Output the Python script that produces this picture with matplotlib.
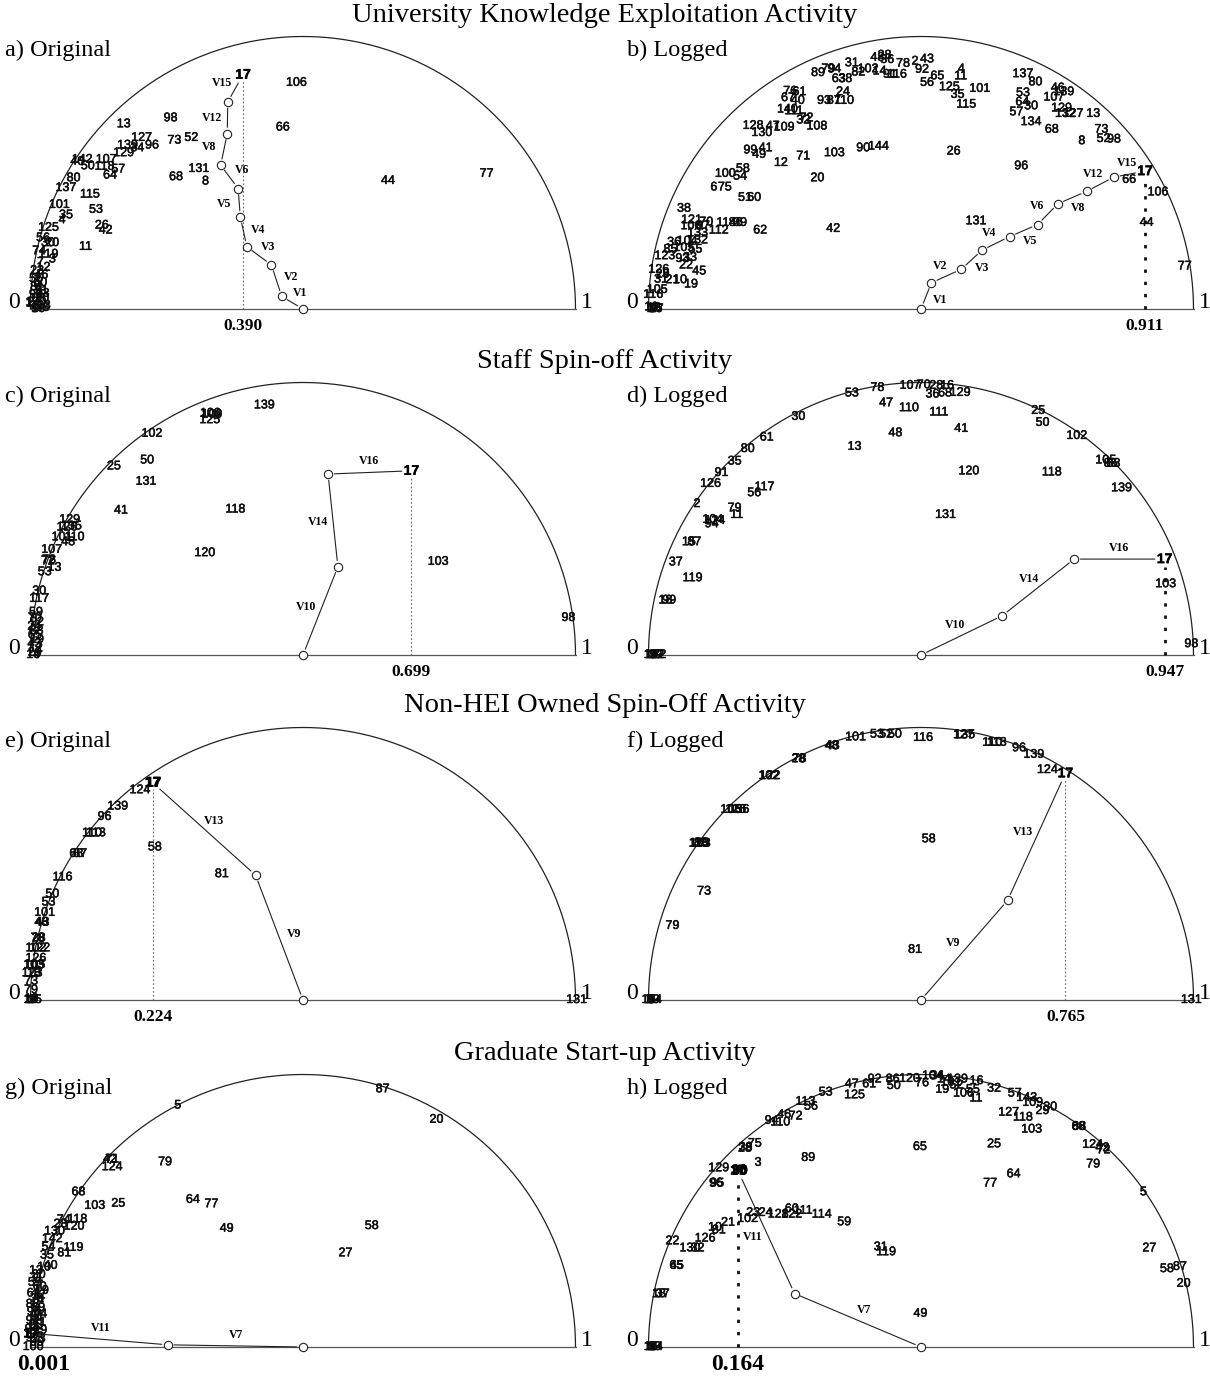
import numpy as np
import matplotlib
matplotlib.use("Agg")
import matplotlib.pyplot as plt
import matplotlib.patheffects as pe

SERIF = "Liberation Serif"
SANS = "Liberation Sans"

ROW_TITLES = ["University Knowledge Exploitation Activity", "Staff Spin-off Activity",
              "Non-HEI Owned Spin-Off Activity", "Graduate Start-up Activity"]
PANEL_NAMES = ["a) Original", "b) Logged", "c) Original", "d) Logged",
               "e) Original", "f) Logged", "g) Original", "h) Logged"]
END_VALUES = ["0.390", "0.911", "0.699", "0.947", "0.224", "0.765", "0.001", "0.164"]
# labels stacked on the end point of each vector chain
END_LABELS = [["17"], ["17"], ["17"], ["17"], ["17", "17"], ["17"], ["17"], ["17", "30", "90"]]

# ---------- panel a ----------
A_PTS = [("106", .488, .415), ("98", .257, .350), ("13", .171, .339), ("66", .463, .333),
         ("127", .204, .314), ("73", .264, .309), ("52", .295, .314), ("139", .178, .300),
         ("34", .196, .295), ("96", .223, .300), ("129", .171, .286), ("142", .095, .274),
         ("40", .086, .270), ("107", .139, .274), ("50", .105, .262), ("118", .136, .261),
         ("57", .161, .256), ("64", .146, .245), ("131", .309, .257), ("68", .267, .242),
         ("8", .321, .234), ("80", .079, .240), ("137", .065, .222), ("115", .109, .210),
         ("101", .053, .191), ("53", .120, .182), ("35", .065, .172), ("4", .058, .163),
         ("125", .033, .149), ("26", .131, .153), ("42", .138, .144), ("11", .101, .114),
         ("44", .656, .235), ("77", .837, .248), ("56", .023, .130), ("30", .032, .121),
         ("20", .040, .121), ("74", .016, .106), ("119", .033, .100), ("3", .040, .091),
         ("7", .018, .085), ("12", .024, .076), ("23", .012, .070), ("46", .020, .062),
         ("55", .010, .055), ("60", .018, .048), ("9", .012, .045), ("81", .012, .040),
         ("91", .020, .033), ("33", .022, .028), ("99", .010, .026), ("110", .016, .019),
         ("120", .010, .012), ("123", .018, .006), ("5", .008, .000), ("85", .022, .002),
         ("14", .004, .010), ("16", .014, .000)]
A_CHAIN = [(.5, 0), (.461, .023), (.442, .081), (.397, .114), (.385, .169), (.381, .221),
           (.349, .264), (.361, .322), (.362, .380), (.390, .430)]
A_VLAB = ["V1", "V2", "V3", "V4", "V5", "V6", "V8", "V12", "V15"]
A_SIDE = [-1, -1, -1, -1, 1, -1, 1, 1, 1]

# ---------- panel b ----------
B_PTS = [("66", .882, .237), ("106", .935, .214), ("44", .914, .158), ("77", .984, .078),
         ("131", .601, .161), ("96", .684, .262), ("26", .560, .289), ("42", .339, .147),
         ("20", .310, .240), ("103", .341, .286), ("90", .394, .295), ("144", .422, .298),
         ("71", .284, .280), ("12", .243, .268), ("99", .187, .291), ("41", .215, .295),
         ("49", .203, .283), ("128", .192, .336), ("47", .228, .335), ("109", .249, .333),
         ("130", .208, .323), ("108", .309, .335), ("72", .290, .350), ("32", .284, .346),
         ("76", .260, .399), ("61", .277, .398), ("67", .256, .387), ("40", .274, .382),
         ("140", .255, .366), ("111", .267, .363), ("93", .322, .382), ("87", .340, .382),
         ("110", .359, .382), ("24", .357, .398), ("89", .311, .433), ("79", .330, .440),
         ("94", .341, .440), ("63", .349, .422), ("38", .361, .422), ("31", .373, .451),
         ("82", .385, .434), ("102", .403, .440), ("14", .424, .436), ("48", .420, .461),
         ("28", .433, .465), ("36", .438, .457), ("78", .467, .450), ("91", .443, .430),
         ("116", .456, .430), ("2", .489, .454), ("43", .511, .458), ("92", .502, .439),
         ("56", .511, .415), ("65", .530, .427), ("4", .574, .440), ("11", .573, .427),
         ("125", .552, .407), ("35", .567, .393), ("101", .608, .404), ("115", .583, .375),
         ("137", .687, .431), ("80", .710, .416), ("53", .687, .396), ("107", .744, .388),
         ("46", .751, .405), ("139", .762, .398), ("64", .686, .379), ("30", .702, .372),
         ("57", .675, .361), ("129", .758, .368), ("132", .765, .358), ("127", .779, .358),
         ("13", .816, .358), ("134", .702, .343), ("68", .740, .329), ("73", .831, .329),
         ("52", .835, .312), ("98", .854, .311), ("8", .795, .308), ("100", .141, .248),
         ("54", .168, .243), ("58", .173, .257), ("6", .120, .223), ("75", .140, .223),
         ("51", .177, .204), ("60", .194, .204), ("38", .065, .184), ("121", .079, .163),
         ("70", .106, .159), ("106", .078, .152), ("87", .100, .152), ("133", .090, .139),
         ("112", .129, .144), ("114", .143, .158), ("86", .160, .158), ("39", .168, .158),
         ("62", .205, .144), ("36", .047, .122), ("104", .071, .124), ("132", .090, .126),
         ("85", .040, .109), ("105", .065, .112), ("55", .086, .109), ("123", .030, .097),
         ("93", .062, .092), ("33", .076, .094), ("22", .069, .080), ("45", .093, .069),
         ("126", .019, .072), ("29", .026, .063), ("31", .023, .054), ("21", .044, .053),
         ("10", .058, .053), ("19", .078, .045), ("105", .016, .035), ("116", .009, .026),
         ("1", .003, .0), ("9", .008, .0), ("15", .013, .0), ("16", .005, .003),
         ("18", .010, .002), ("27", .015, .0)]
B_CHAIN = [(.5, 0), (.519, .048), (.574, .073), (.612, .108), (.663, .133), (.714, .155),
           (.751, .193), (.804, .216), (.854, .242), (.911, .253)]
B_VLAB = ["V1", "V2", "V3", "V4", "V5", "V6", "V8", "V12", "V15"]
B_SIDE = [-1, 1, -1, 1, -1, 1, -1, 1, 1]

# ---------- panel c ----------
C_PTS = [("139", .429, .458), ("108", .330, .443), ("109", .333, .441), ("125", .329, .431),
         ("102", .223, .406), ("50", .214, .357), ("25", .153, .346), ("131", .212, .318),
         ("41", .166, .265), ("118", .376, .267), ("120", .320, .187), ("103", .748, .171),
         ("98", .987, .068), ("129", .072, .248), ("126", .067, .234), ("135", .075, .236),
         ("101", .058, .216), ("110", .081, .216), ("48", .069, .207), ("107", .039, .193),
         ("72", .032, .172), ("78", .034, .174), ("13", .044, .160), ("53", .026, .152),
         ("30", .016, .117), ("117", .016, .103), ("59", .010, .078), ("70", .008, .068),
         ("92", .012, .060), ("24", .007, .052), ("88", .011, .044), ("65", .008, .036),
         ("19", .012, .028), ("43", .007, .020), ("12", .010, .012), ("29", .008, .004),
         ("9", .012, .0), ("14", .005, .0)]
C_CHAIN = [(.5, 0), (.564, .162), (.546, .332), (.699, .338)]
C_VLAB = ["V10", "V14", "V16"]
C_SIDE = [1, 1, 1]

# ---------- panel d ----------
D_PTS = [("103", .949, .130), ("98", .996, .020), ("53", .373, .480), ("78", .420, .490),
         ("107", .480, .494), ("70", .505, .495), ("28", .528, .494), ("16", .548, .494),
         ("36", .521, .478), ("68", .544, .480), ("129", .572, .481), ("47", .436, .462),
         ("110", .478, .453), ("111", .533, .445), ("30", .275, .437), ("48", .453, .407),
         ("41", .574, .415), ("13", .378, .382), ("25", .715, .448), ("50", .723, .426),
         ("102", .786, .402), ("61", .217, .399), ("80", .182, .378), ("35", .158, .355),
         ("91", .134, .334), ("126", .114, .314), ("2", .089, .277), ("56", .194, .297),
         ("117", .213, .308), ("79", .158, .269), ("11", .162, .257), ("120", .588, .337),
         ("118", .740, .335), ("105", .839, .357), ("85", .848, .351), ("83", .853, .351),
         ("139", .868, .306), ("131", .545, .257), ("104", .118, .248), ("94", .116, .240),
         ("124", .122, .246), ("15", .074, .207), ("87", .084, .207), ("37", .050, .170),
         ("119", .081, .141), ("18", .031, .100), ("99", .038, .100), ("1", .0, .0),
         ("9", .008, .0), ("12", .016, .0), ("14", .004, .0), ("19", .012, .0), ("22", .020, .0)]
D_CHAIN = [(.5, 0), (.649, .072), (.781, .176), (.947, .176)]
D_VLAB = ["V10", "V14", "V16"]
D_SIDE = [1, 1, 1]

# ---------- panel e ----------
E_PTS = [("124", .201, .385), ("139", .160, .355), ("96", .136, .336), ("110", .113, .306),
         ("113", .120, .306), ("68", .084, .268), ("87", .091, .268), ("116", .059, .225),
         ("50", .040, .194), ("53", .033, .179), ("101", .026, .160), ("48", .020, .142),
         ("43", .022, .142), ("78", .013, .113), ("28", .015, .113), ("102", .010, .095),
         ("122", .017, .095), ("126", .010, .076), ("103", .006, .064), ("105", .008, .064),
         ("123", .003, .049), ("18", .006, .049), ("73", .001, .034), ("79", .001, .018),
         ("58", .228, .280), ("81", .351, .231), ("131", 1.002, .0), ("1", -.004, .0),
         ("9", .004, .0), ("14", .0, .0), ("15", .008, .0), ("19", .002, .002)]
E_CHAIN = [(.5, 0), (.413, .229), (.224, .399)]
E_VLAB = ["V9", "V13"]
E_SIDE = [-1, -1]

# ---------- panel f ----------
F_PTS = [("124", .732, .422), ("139", .707, .450), ("96", .680, .462), ("110", .631, .472),
         ("113", .639, .472), ("127", .578, .486), ("135", .580, .486), ("116", .504, .481),
         ("53", .419, .487), ("52", .436, .487), ("50", .452, .487), ("101", .380, .482),
         ("48", .336, .466), ("43", .338, .466), ("28", .275, .442), ("78", .277, .442),
         ("102", .221, .411), ("122", .223, .411), ("105", .151, .349), ("136", .166, .349),
         ("126", .160, .349), ("103", .095, .287), ("18", .097, .287), ("123", .093, .287),
         ("88", .096, .288), ("73", .102, .199), ("79", .044, .136), ("58", .514, .295),
         ("81", .489, .092), ("131", .996, .0), ("1", -.002, .0), ("9", .005, .0),
         ("14", .012, .0), ("15", .0, .0), ("19", .008, .0)]
F_CHAIN = [(.5, 0), (.659, .183), (.765, .416)]
F_VLAB = ["V9", "V13"]
F_SIDE = [1, 1]

# ---------- panel g ----------
G_PTS = [("87", .646, .473), ("5", .270, .443), ("20", .745, .417), ("42", .146, .344),
         ("71", .150, .344), ("124", .150, .330), ("79", .247, .339), ("68", .088, .284),
         ("103", .118, .259), ("25", .161, .263), ("64", .298, .270), ("77", .332, .262),
         ("49", .360, .217), ("58", .626, .222), ("27", .578, .172), ("118", .086, .234),
         ("74", .061, .233), ("120", .080, .221), ("28", .055, .225), ("130", .044, .212),
         ("142", .040, .198), ("54", .033, .183), ("119", .079, .182), ("81", .062, .172),
         ("35", .030, .168), ("40", .037, .149), ("10", .025, .146), ("11", .012, .127),
         ("19", .021, .103), ("12", .015, .095), ("4", .018, .085), ("13", .010, .140),
         ("30", .015, .132), ("59", .008, .118), ("60", .017, .110), ("61", .006, .098),
         ("70", .012, .088), ("88", .004, .078), ("89", .014, .072), ("90", .006, .064),
         ("91", .012, .056), ("92", .004, .048), ("93", .010, .040), ("94", .002, .032),
         ("95", .011, .024), ("97", .004, .016), ("99", .012, .008), ("100", .005, .0),
         ("23", .015, .015), ("29", .018, .030), ("41", .016, .045), ("44", .018, .060)]
G_CHAIN = [(.5, 0), (.252, .004), (.001, .025)]
G_VLAB = ["V7", "V11"]
G_SIDE = [-1, -1]

# ---------- panel h ----------
H_PTS = [("129", .129, .328), ("3", .201, .338), ("28", .177, .364), ("38", .178, .366),
         ("75", .195, .373), ("96", .124, .300), ("95", .126, .300), ("89", .293, .347),
         ("65", .498, .367), ("25", .634, .372), ("64", .670, .317), ("77", .627, .300),
         ("79", .816, .335), ("124", .815, .371), ("72", .835, .361), ("42", .833, .365),
         ("68", .789, .404), ("88", .790, .404), ("5", .908, .284), ("27", .919, .181),
         ("58", .951, .143), ("87", .975, .147), ("20", .982, .116), ("49", .499, .061),
         ("31", .426, .183), ("119", .436, .174), ("59", .359, .229), ("114", .318, .243),
         ("111", .284, .250), ("60", .263, .253), ("122", .263, .243), ("128", .238, .243),
         ("24", .215, .246), ("23", .192, .246), ("102", .182, .235), ("21", .146, .228),
         ("10", .122, .219), ("81", .129, .214), ("126", .104, .199), ("22", .044, .194),
         ("130", .076, .181), ("32", .090, .181), ("65", .051, .149), ("45", .052, .149),
         ("18", .019, .097), ("37", .026, .097), ("53", .325, .467), ("113", .288, .450),
         ("56", .298, .441), ("46", .249, .426), ("72", .270, .423), ("94", .226, .415),
         ("110", .242, .412), ("47", .373, .482), ("125", .378, .462), ("61", .405, .482),
         ("92", .415, .491), ("86", .448, .491), ("50", .450, .479), ("120", .479, .492),
         ("104", .521, .497), ("76", .502, .484), ("14", .542, .491), ("139", .567, .491),
         ("16", .602, .488), ("19", .539, .472), ("106", .578, .465), ("55", .595, .472),
         ("11", .601, .456), ("32", .634, .474), ("57", .672, .465), ("143", .694, .457),
         ("109", .705, .448), ("127", .661, .430), ("118", .687, .421), ("103", .703, .399),
         ("29", .723, .433), ("30", .737, .440), ("34", .530, .497), ("101", .555, .485),
         ("52", .565, .480), ("1", .0, .0), ("9", .007, .0), ("14", .014, .0),
         ("15", .004, .0), ("19", .011, .0)]
H_CHAIN = [(.5, 0), (.268, .098), (.164, .324)]
H_VLAB = ["V7", "V11"]
H_SIDE = [-1, 1]

PANELS = [(A_PTS, A_CHAIN, A_VLAB, A_SIDE), (B_PTS, B_CHAIN, B_VLAB, B_SIDE),
          (C_PTS, C_CHAIN, C_VLAB, C_SIDE), (D_PTS, D_CHAIN, D_VLAB, D_SIDE),
          (E_PTS, E_CHAIN, E_VLAB, E_SIDE), (F_PTS, F_CHAIN, F_VLAB, F_SIDE),
          (G_PTS, G_CHAIN, G_VLAB, G_SIDE), (H_PTS, H_CHAIN, H_VLAB, H_SIDE)]
# dotted guide style per panel: thin / bold / none
GUIDE = ["thin", "bold", "thin", "bold", "thin", "thin", None, "bold"]
VAL_SIZE = [12.5, 12.5, 12.5, 12.5, 12.5, 12.5, 17, 17]

W, H = 1210, 1386
S = 545.0                      # pixels per data unit
CX = [303, 921]
BASE = [309, 655, 1000, 1347]
XL, YL = (-0.04, 1.04), (-0.06, 0.53)

fig = plt.figure(figsize=(W / 100, H / 100), dpi=100)

for r, t in enumerate(ROW_TITLES):
    fig.text(0.5, 1 - (BASE[r] - 294) / H, t, ha="center", va="center",
             family=SERIF, fontsize=20.5)

heavy = [pe.withStroke(linewidth=0.35, foreground="black")]

for k, (pts, chain, vlab, side) in enumerate(PANELS):
    row, col = divmod(k, 2)
    cx, base = CX[col], BASE[row]
    left = cx + XL[0] * S - 0.5 * S
    bottom = base - YL[0] * S
    ax = fig.add_axes([left / W, 1 - bottom / H, (XL[1] - XL[0]) * S / W,
                       (YL[1] - YL[0]) * S / H])
    ax.set_xlim(*XL)
    ax.set_ylim(*YL)
    ax.axis("off")

    fig.text((5 if col == 0 else 627) / W, 1 - (base - 259) / H, PANEL_NAMES[k],
             ha="left", va="center", family=SERIF, fontsize=17.5)

    th = np.linspace(0, np.pi, 400)
    ax.plot(0.5 + 0.5 * np.cos(th), 0.5 * np.sin(th), color="#222222", lw=0.9)
    ax.plot([0, 1], [0, 0], color="#555555", lw=0.9)
    ax.text(-0.03, 0.012, "0", family=SERIF, fontsize=17, ha="center", va="center")
    ax.text(1.02, 0.012, "1", family=SERIF, fontsize=17, ha="center", va="center")

    for lab, x, y in pts:
        ax.text(x, y, lab, ha="center", va="center", family=SANS, fontsize=9,
                color="#111111", clip_on=False, path_effects=heavy)

    xe, ye = chain[-1]
    if GUIDE[k] == "thin":
        ax.plot([xe, xe], [0, ye - 0.012], color="#666666", lw=0.8, ls=(0, (1.5, 2)))
    elif GUIDE[k] == "bold":
        ax.plot([xe, xe], [0, ye - 0.015], color="#111111", lw=2.0, ls=(0, (1.2, 3.2)))
    ax.text(max(xe, 0.025), -0.032, END_VALUES[k], ha="center", va="center",
            family=SERIF, fontsize=VAL_SIZE[k], weight="bold")

    for i, lab in enumerate(vlab):
        (x0, y0), (x1, y1) = chain[i], chain[i + 1]
        last = i == len(vlab) - 1
        ax.annotate("", xy=(x1, y1), xytext=(x0, y0),
                    arrowprops=dict(arrowstyle="-", lw=0.8, color="#222222",
                                    shrinkA=4.5, shrinkB=7 if last else 4.5))
        d = np.array([x1 - x0, y1 - y0])
        n = np.array([-d[1], d[0]]) / np.hypot(*d) * side[i]
        ax.annotate(lab, xy=((x0 + x1) / 2, (y0 + y1) / 2), xytext=(n[0] * 11, n[1] * 8),
                    textcoords="offset points", ha="center", va="center",
                    family=SERIF, fontsize=8.5, weight="bold")

    cxs = [p[0] for p in chain[:-1]]
    cys = [p[1] for p in chain[:-1]]
    ax.plot(cxs, cys, ls="none", marker="o", ms=6, mfc="white", mec="#222222", mew=0.8,
            zorder=5)
    for j, lab in enumerate(END_LABELS[k]):
        ax.text(xe + 0.002 * j, ye, lab, ha="center", va="center", family=SANS,
                fontsize=10, weight="bold", color="black", path_effects=heavy)

fig.savefig("out.png", dpi=100)
